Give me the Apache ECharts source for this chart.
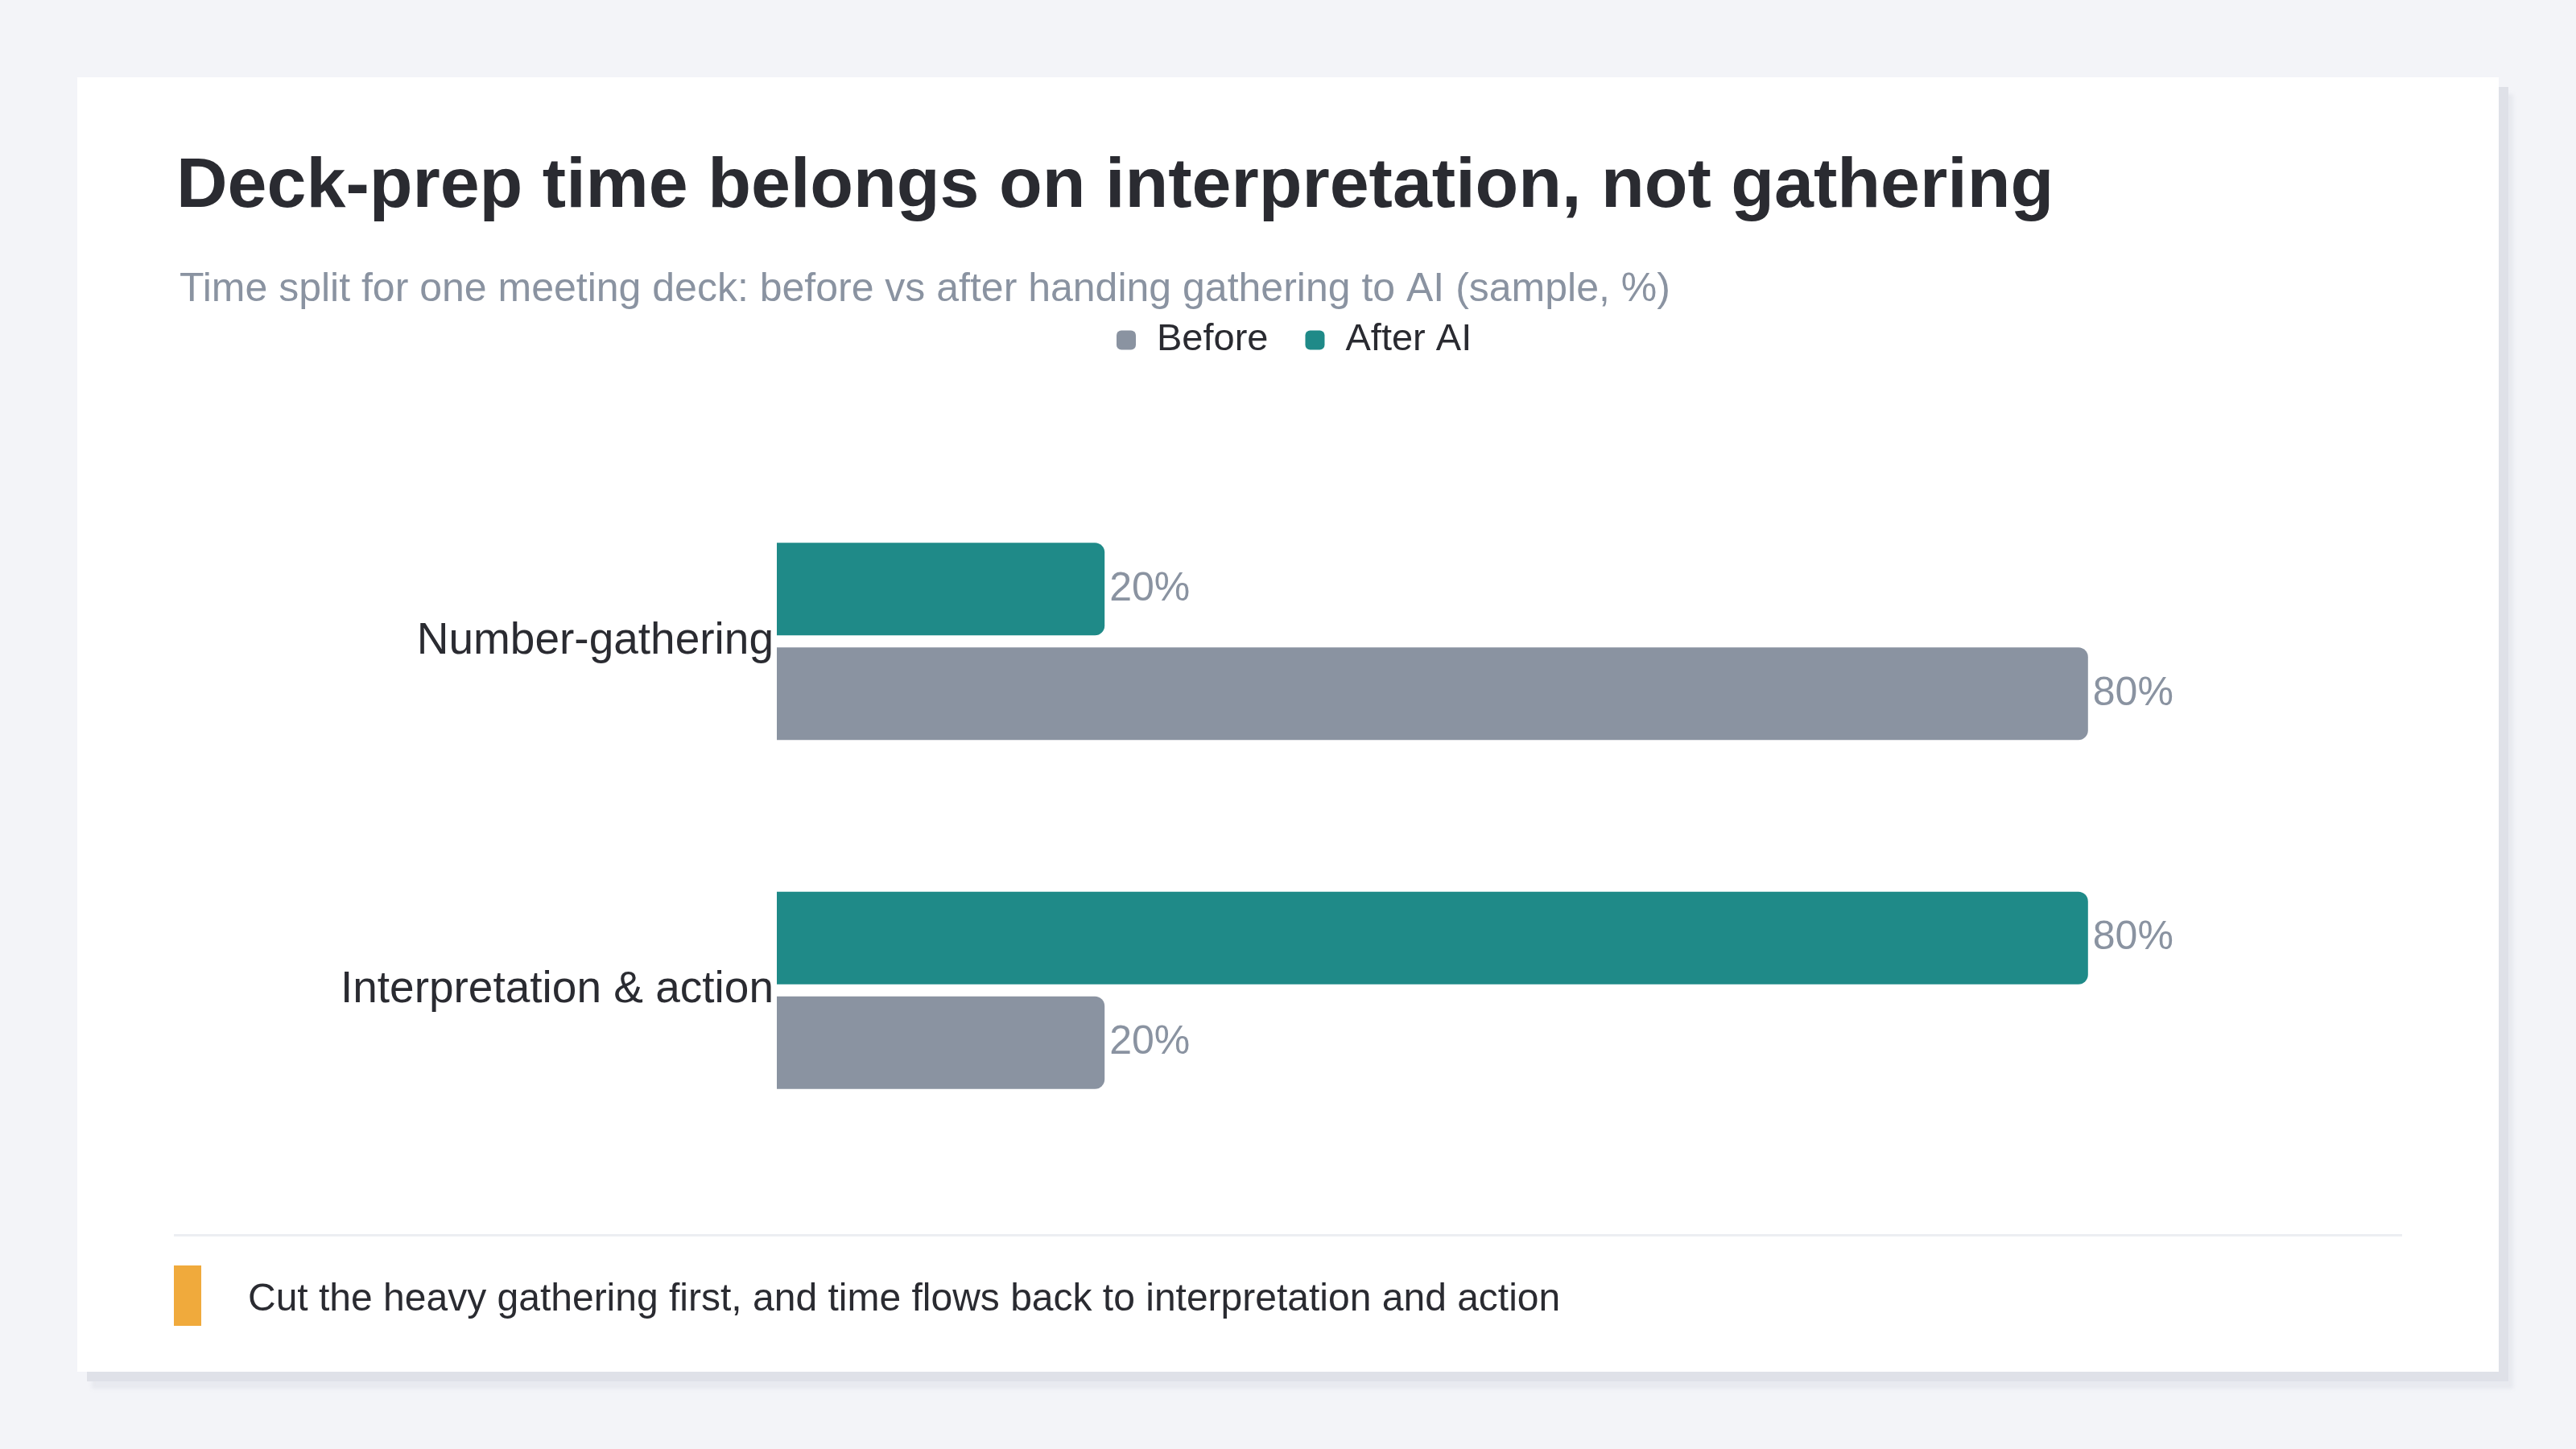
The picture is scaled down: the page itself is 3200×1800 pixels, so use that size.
<!DOCTYPE html>
<html>
<head>
<meta charset="utf-8">
<script src="https://cdn.jsdelivr.net/npm/echarts@6/dist/echarts.min.js"></script>
<style>
  html, body { margin: 0; padding: 0; background: #f3f4f8; }
  body { width: 3200px; height: 1800px; position: relative; overflow: hidden; }
  .card {
    position: absolute;
    left: 96px;
    top: 96px;
    width: 3008px;
    height: 1608px;
    background: #ffffff;
    box-shadow: 12px 12px 0 #dfe1e8, 18px 21px 4px rgba(200, 204, 214, 0.25);
  }
  .chart { width: 3008px; height: 1608px; }
</style>
</head>
<body>
<div class="card"><div class="chart"></div></div>
<script>
// 데이터
const categories = ['Number-gathering', 'Interpretation & action'];
const seriesNames = ['Before', 'After AI'];
const beforeValues = [80, 20];
const afterValues = [20, 80];

const FONT = '"Liberation Sans", Arial, Helvetica, sans-serif';
const GRAY = '#8a93a1';
const TEAL = '#1f8a88';
const INK = '#2a2b31';

let chartDom = document.querySelector('.chart');
let myChart = echarts.init(chartDom, null, { renderer: 'canvas' });

// 막대 라벨 공통 스타일
const barLabel = {
  show: true,
  position: 'right',
  distance: 6,
  formatter: '{c}%',
  fontSize: 50,
  color: GRAY,
  fontFamily: FONT,
};

let option = {
  animation: false,
  textStyle: { fontFamily: FONT },
  title: [
    {
      text: 'Deck-prep time belongs on interpretation, not gathering',
      left: 118,
      top: 88,
      textStyle: { fontSize: 88, fontWeight: 'bold', color: INK, fontFamily: FONT },
    },
    {
      text: 'Time split for one meeting deck: before vs after handing gathering to AI (sample, %)',
      left: 122,
      top: 234,
      textStyle: { fontSize: 50, fontWeight: 'normal', color: GRAY, fontFamily: FONT },
    },
  ],
  legend: {
    data: seriesNames,
    left: 1286,
    top: 298,
    itemWidth: 24,
    itemHeight: 24,
    itemGap: 46,
    icon: 'roundRect',
    textStyle: { fontSize: 47, color: INK, fontFamily: FONT, padding: [0, 0, 0, 21] },
  },
  grid: {
    left: 869,
    right: 103,
    top: 484,
    bottom: 257,
    containLabel: false,
  },
  xAxis: {
    type: 'value',
    min: 0,
    max: 100,
    show: false,
  },
  yAxis: {
    type: 'category',
    data: categories,
    inverse: true,
    axisLine: { show: false },
    axisTick: { show: false },
    splitLine: { show: false },
    axisLabel: { fontSize: 55, color: INK, margin: 4, fontFamily: FONT },
  },
  // After AI 시리즈가 위쪽에 오도록 먼저 둔다
  series: [
    {
      name: seriesNames[1],
      type: 'bar',
      data: afterValues,
      barWidth: 115,
      barGap: '13%',
      itemStyle: { color: TEAL, borderRadius: [0, 12, 12, 0] },
      label: barLabel,
    },
    {
      name: seriesNames[0],
      type: 'bar',
      data: beforeValues,
      barWidth: 115,
      barGap: '13%',
      itemStyle: { color: GRAY, borderRadius: [0, 12, 12, 0] },
      label: barLabel,
    },
  ],
  graphic: [
    // 하단 구분선
    {
      type: 'rect',
      left: 120,
      top: 1437,
      shape: { width: 2768, height: 3 },
      style: { fill: '#eceef2' },
    },
    // 주황색 강조 막대
    {
      type: 'rect',
      left: 120,
      top: 1476,
      shape: { width: 34, height: 75 },
      style: { fill: '#f0aa3c' },
    },
    {
      type: 'text',
      left: 212,
      top: 1495,
      style: {
        text: 'Cut the heavy gathering first, and time flows back to interpretation and action',
        fontSize: 48,
        fill: INK,
        fontFamily: FONT,
      },
    },
  ],
};

myChart.setOption(option);
</script>
</body>
</html>
